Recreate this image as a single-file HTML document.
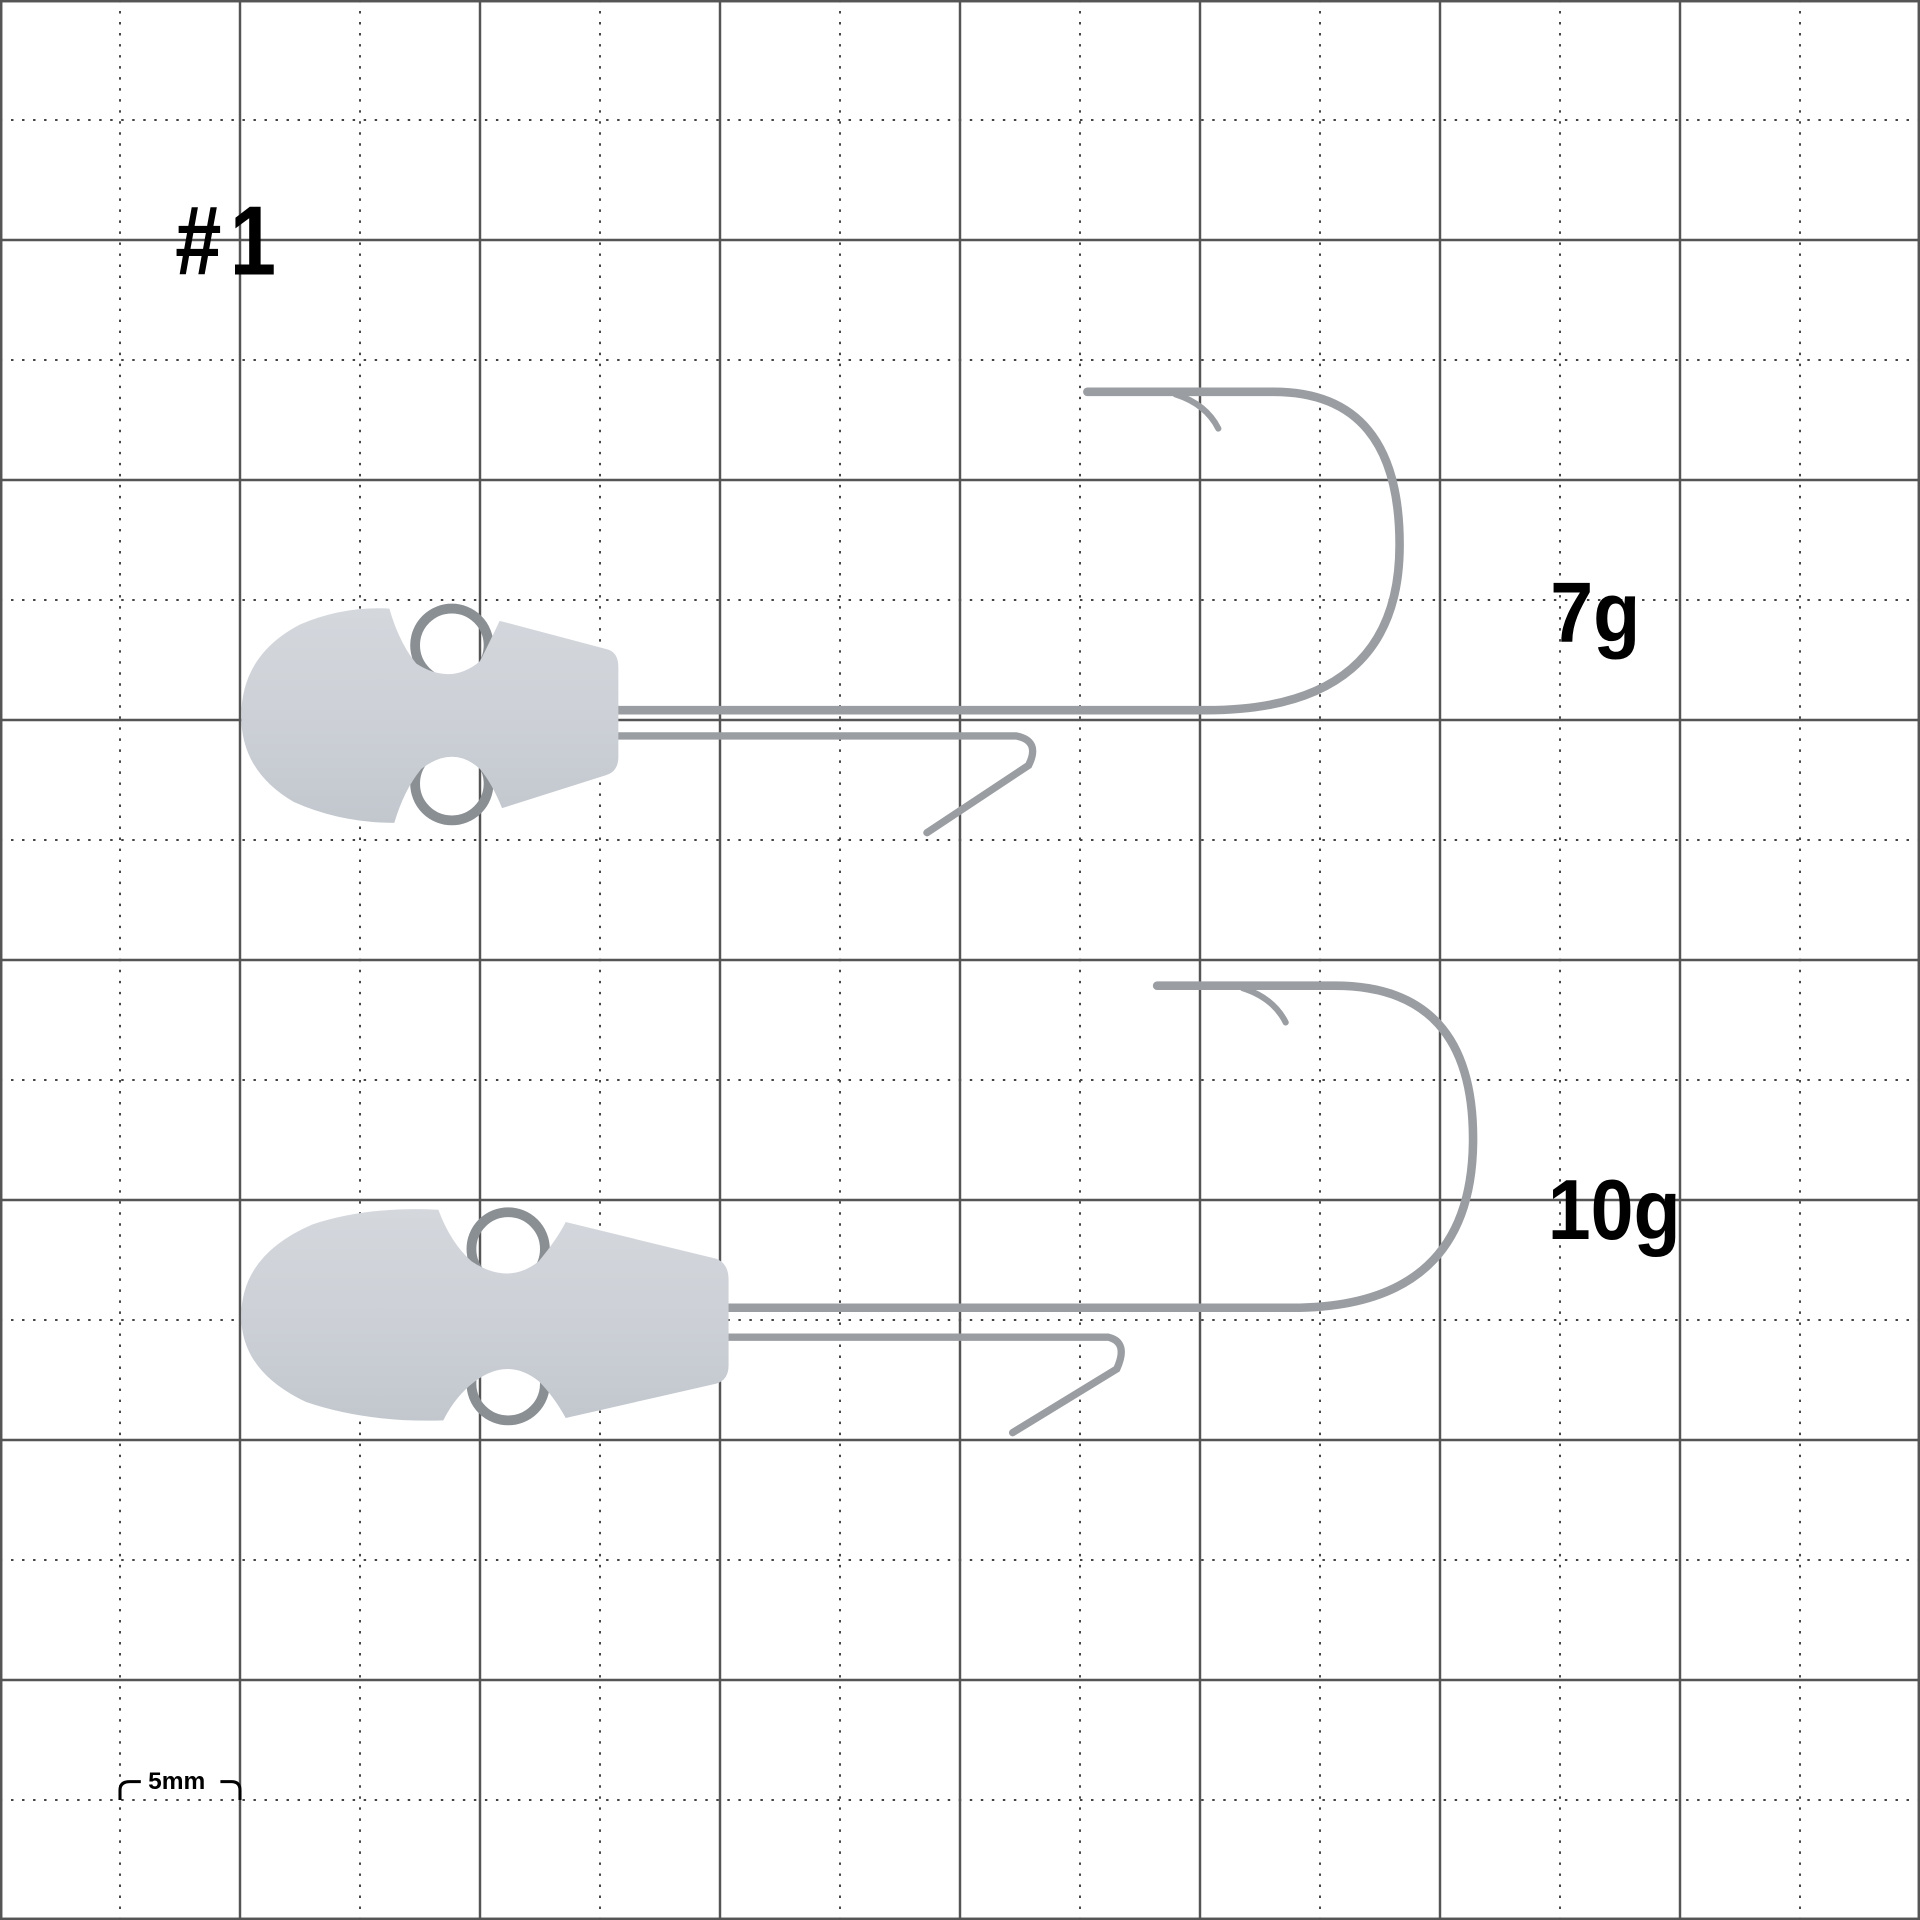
<!DOCTYPE html>
<html><head><meta charset="utf-8"><style>
html,body{margin:0;padding:0;background:#fff;}
svg{display:block;}
</style></head><body>
<svg width="1920" height="1920" viewBox="0 0 1568 1568" xmlns="http://www.w3.org/2000/svg">
<defs>
<linearGradient id="hd" x1="0" y1="0" x2="0" y2="1">
<stop offset="0" stop-color="#d4d8dd"/><stop offset="0.5" stop-color="#cdd1d7"/><stop offset="1" stop-color="#c2c7ce"/>
</linearGradient>
</defs>
<rect width="1568" height="1568" fill="#fff"/>
<g stroke="#444" stroke-width="1.6" stroke-dasharray="2 7">
<line x1="98" y1="0" x2="98" y2="1568"/><line x1="294" y1="0" x2="294" y2="1568"/><line x1="490" y1="0" x2="490" y2="1568"/><line x1="686" y1="0" x2="686" y2="1568"/><line x1="882" y1="0" x2="882" y2="1568"/><line x1="1078" y1="0" x2="1078" y2="1568"/><line x1="1274" y1="0" x2="1274" y2="1568"/><line x1="1470" y1="0" x2="1470" y2="1568"/>
<line y1="98" x1="0" y2="98" x2="1568"/><line y1="294" x1="0" y2="294" x2="1568"/><line y1="490" x1="0" y2="490" x2="1568"/><line y1="686" x1="0" y2="686" x2="1568"/><line y1="882" x1="0" y2="882" x2="1568"/><line y1="1078" x1="0" y2="1078" x2="1568"/><line y1="1274" x1="0" y2="1274" x2="1568"/><line y1="1470" x1="0" y2="1470" x2="1568"/>
</g>
<g stroke="#555" stroke-width="2">
<line x1="196" y1="0" x2="196" y2="1568"/><line x1="392" y1="0" x2="392" y2="1568"/><line x1="588" y1="0" x2="588" y2="1568"/><line x1="784" y1="0" x2="784" y2="1568"/><line x1="980" y1="0" x2="980" y2="1568"/><line x1="1176" y1="0" x2="1176" y2="1568"/><line x1="1372" y1="0" x2="1372" y2="1568"/>
<line y1="196" x1="0" y2="196" x2="1568"/><line y1="392" x1="0" y2="392" x2="1568"/><line y1="588" x1="0" y2="588" x2="1568"/><line y1="784" x1="0" y2="784" x2="1568"/><line y1="980" x1="0" y2="980" x2="1568"/><line y1="1176" x1="0" y2="1176" x2="1568"/><line y1="1372" x1="0" y2="1372" x2="1568"/>
<rect x="1" y="1" width="1566" height="1566" fill="none"/>
</g>
<g font-family="Liberation Sans, sans-serif" font-weight="bold" fill="#000">
<text x="143" y="224" font-size="80" transform="translate(143 224) scale(0.85 1) translate(-143 -224)" letter-spacing="8">#1</text>
<text x="1266" y="524" font-size="70" transform="translate(1266 524) scale(0.9 1) translate(-1266 -524)">7g</text>
<text x="1264" y="1012" font-size="70" transform="translate(1264 1012) scale(0.9 1) translate(-1264 -1012)">10g</text>
<text x="121" y="1461" font-size="20">5mm</text>
</g>
<path d="M98 1470 V1462 Q98 1455 106 1455 H115 M180 1455 H189 Q196 1455 196 1462 V1470" fill="none" stroke="#000" stroke-width="2.5"/>

<g fill="none" stroke-linecap="round" stroke="#9a9ea2">
<path d="M500 580 H985 Q1143 580 1143 445 Q1143 320 1040 320 H955 L888 320" stroke-width="7"/>
<path d="M960 322 Q985 330 995 350" stroke-width="5"/>
<path d="M500 601 H830 Q850 605 840 625 L757 680" stroke-width="6"/>
<path d="M590 1068 H1055 Q1203 1068 1203 930 Q1203 805 1090 805 H1010 L945 805" stroke-width="7"/>
<path d="M1015 807 Q1040 815 1050 835" stroke-width="5"/>
<path d="M590 1092 H905 Q922 1096 912 1118 L827 1170" stroke-width="6"/>
</g>
<circle cx="369" cy="527" r="30" fill="none" stroke="#8a8f94" stroke-width="8"/>
<circle cx="369" cy="640" r="30" fill="none" stroke="#8a8f94" stroke-width="8"/>
<path d="M245 510 Q280 495 318 497 Q326 525 340 542 Q368 560 392 540 Q402 520 408 507 L495 530 Q505 532 505 545 V618 Q505 630 495 633 L410 660 Q402 640 392 628 Q370 608 344 628 Q330 645 322 672 Q278 672 240 655 Q197 630 197 585 Q197 535 245 510 Z" fill="url(#hd)"/>

<circle cx="415" cy="1020" r="30" fill="none" stroke="#8a8f94" stroke-width="8"/>
<circle cx="415" cy="1130" r="30" fill="none" stroke="#8a8f94" stroke-width="8"/>
<path d="M255 1000 Q300 985 358 988 Q368 1015 385 1030 Q415 1050 440 1030 Q455 1012 462 998 L585 1028 Q595 1032 595 1045 V1115 Q595 1127 585 1130 L462 1158 Q452 1140 440 1128 Q415 1108 388 1128 Q372 1140 362 1160 Q300 1162 250 1145 Q197 1120 197 1075 Q197 1025 255 1000 Z" fill="url(#hd)"/>
</svg>
</body></html>
